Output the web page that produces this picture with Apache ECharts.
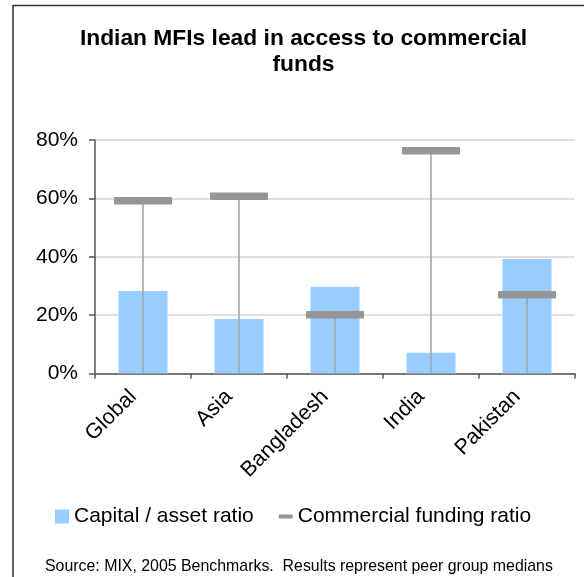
<!DOCTYPE html>
<html>
<head>
<meta charset="utf-8">
<script src="https://cdn.jsdelivr.net/npm/echarts@6/dist/echarts.min.js"></script>
<style>
html,body{margin:0;padding:0;background:#fff;}
#chart{width:584px;height:577px;}
</style>
</head>
<body>
<div id="chart"></div>
<script>
var categories = ['Global', 'Asia', 'Bangladesh', 'India', 'Pakistan'];
var capitalAssetRatio = [28.3, 18.7, 29.7, 7.1, 39.2];
var commercialFundingRatio = [59.2, 60.7, 20.1, 76.3, 27.0];
var yTicks = [0, 20, 40, 60, 80];

var FONT = '"Liberation Sans", Arial, sans-serif';
var chart = echarts.init(document.getElementById('chart'), null, {renderer: 'canvas'});

var option = {
  animation: false,
  backgroundColor: '#ffffff',
  title: {
    text: 'Indian MFIs lead in access to commercial\nfunds',
    left: 298.5,
    top: 21,
    textAlign: 'center',
    textStyle: {fontFamily: FONT, fontSize: 22.8, fontWeight: 'bold', color: '#000', lineHeight: 26}
  },
  grid: {left: 95, right: 9, top: 140, bottom: 203.5, containLabel: false},
  legend: {
    top: 501,
    left: 50,
    itemWidth: 14,
    itemHeight: 14,
    itemGap: 25,
    textStyle: {fontFamily: FONT, fontSize: 21, color: '#000'},
    data: [
      {name: 'Capital / asset ratio', icon: 'rect'},
      {name: 'Commercial funding ratio', icon: 'path://M0,0 L0,0 M0,5 L14,5 L14,9 L0,9 Z M14,14 L14,14'}
    ]
  },
  xAxis: {
    type: 'category',
    data: categories,
    axisLine: {lineStyle: {color: '#555', width: 1.5}},
    axisTick: {show: true, length: 5, alignWithLabel: false, lineStyle: {color: '#555', width: 1.5}},
    axisLabel: {rotate: 45, margin: 10, padding: [0, 14, 0, 0], fontFamily: FONT, fontSize: 21.5, color: '#000', interval: 0}
  },
  yAxis: {
    type: 'value',
    min: yTicks[0],
    max: yTicks[yTicks.length - 1],
    interval: 20,
    axisLine: {show: true, lineStyle: {color: '#555', width: 1.5}},
    axisTick: {show: true, length: 6, lineStyle: {color: '#555', width: 1.5}},
    splitLine: {show: true, lineStyle: {color: '#d4d4d4', width: 1.5}},
    axisLabel: {formatter: '{value}%', margin: 17, fontFamily: FONT, fontSize: 21, color: '#000'}
  },
  series: [
    {
      name: 'Capital / asset ratio',
      type: 'bar',
      data: capitalAssetRatio,
      barWidth: 49,
      itemStyle: {color: '#99ccff'},
      z: 2
    },
    {
      name: 'Commercial funding ratio',
      type: 'custom',
      data: commercialFundingRatio.map(function (v, i) { return [i, v]; }),
      encode: {x: 0, y: 1},
      itemStyle: {color: '#969696'},
      z: 5,
      renderItem: function (params, api) {
        var top = api.coord([api.value(0), api.value(1)]);
        var base = api.coord([api.value(0), 0]);
        var w = 58, h = 7.5;
        return {
          type: 'group',
          children: [
            {type: 'line', shape: {x1: top[0], y1: top[1], x2: base[0], y2: base[1]},
             style: {stroke: '#a0a0a0', lineWidth: 1.5}},
            {type: 'rect', shape: {x: top[0] - w / 2, y: top[1] - h / 2, width: w, height: h, r: 1},
             style: {fill: '#969696'}}
          ]
        };
      }
    }
  ],
  graphic: [
    {type: 'rect', left: 10.5, top: 3, silent: true, z: 100,
     shape: {width: 700, height: 700}, style: {fill: 'none', stroke: '#333', lineWidth: 1.5}},
    {type: 'text', left: 45, top: 559, silent: true,
     style: {text: 'Source: MIX, 2005 Benchmarks.  Results represent peer group medians', font: '15.9px ' + FONT, fill: '#000'}}
  ]
};
chart.setOption(option);
</script>
</body>
</html>
